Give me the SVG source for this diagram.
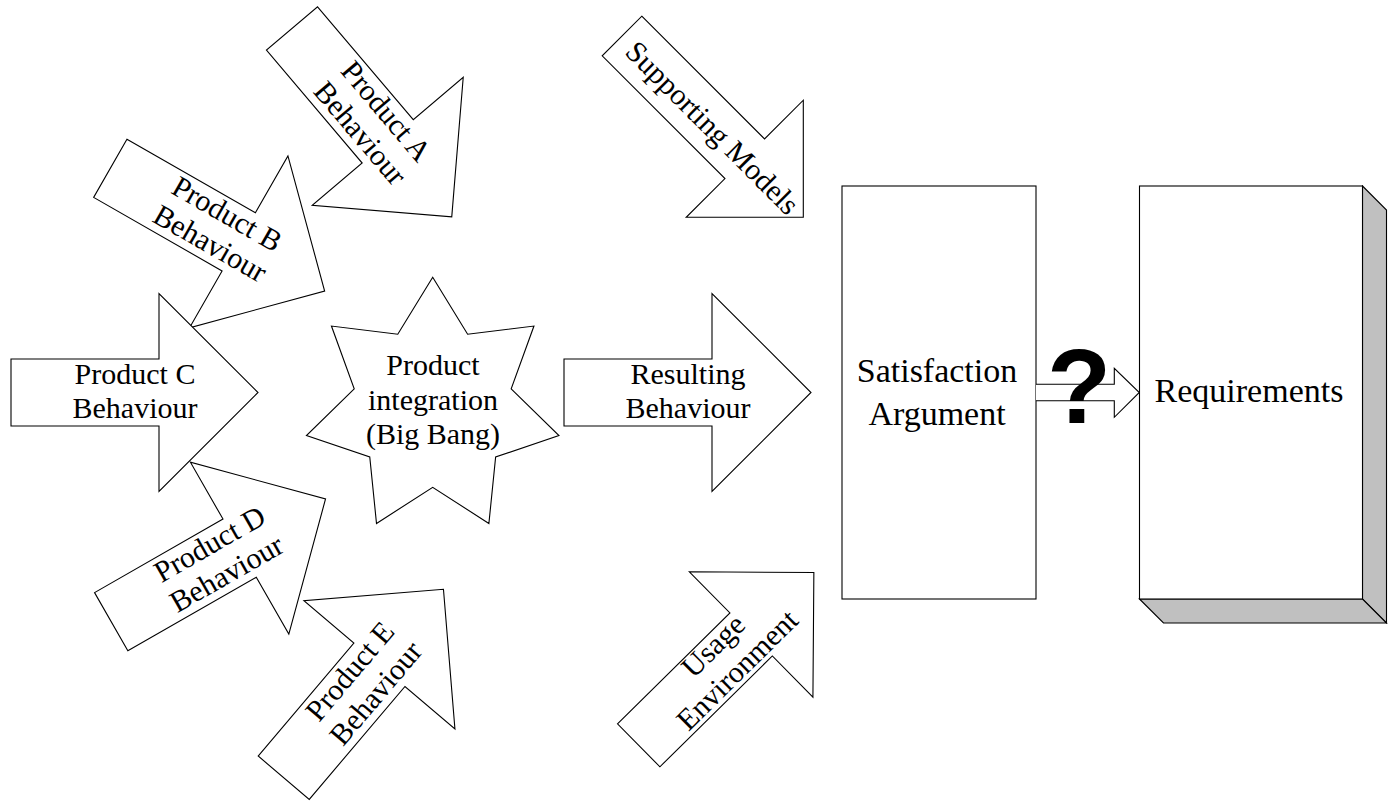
<svg xmlns="http://www.w3.org/2000/svg" width="1389" height="802" viewBox="0 0 1389 802" font-family="'Liberation Serif', 'Times New Roman', serif">
<style>
.sh{fill:#fff;stroke:#000;stroke-width:1.1;stroke-linejoin:miter}
.t{font-family:'Liberation Serif','Times New Roman',serif;font-size:30px;fill:#000;text-anchor:middle}
.tb{font-family:'Liberation Serif','Times New Roman',serif;font-size:34px;fill:#000;text-anchor:middle}
.side{fill:#c0c0c0;stroke:#000;stroke-width:1.1;stroke-linejoin:miter}
</style>
<defs>
<path id="arr" d="M0,-33.5 H148 V-99 L247,0 L148,99 V33.5 H0 Z"/>
</defs>
<rect width="1389" height="802" fill="#fff"/>

<g id="productA" transform="translate(292,28.5) rotate(49.7)">
<use href="#arr" class="sh"/>
<text class="t" x="124" y="-8.5">Product A</text>
<text class="t" x="124" y="25.5">Behaviour</text>
</g>

<g id="productB" transform="translate(110.3,168.3) rotate(29.8)">
<use href="#arr" class="sh"/>
<text class="t" x="124" y="-8.5">Product B</text>
<text class="t" x="124" y="25.5">Behaviour</text>
</g>

<g id="productC" transform="translate(11,392.5)">
<use href="#arr" class="sh"/>
<text class="t" x="124" y="-8.5">Product C</text>
<text class="t" x="124" y="25.5">Behaviour</text>
</g>

<g id="productD" transform="translate(111.2,621.7) rotate(-29.8)">
<use href="#arr" class="sh"/>
<text class="t" x="124" y="-8.5">Product D</text>
<text class="t" x="124" y="25.5">Behaviour</text>
</g>

<g id="productE" transform="translate(283.7,777.7) rotate(-49.7)">
<use href="#arr" class="sh"/>
<text class="t" x="124" y="-8.5">Product E</text>
<text class="t" x="124" y="25.5">Behaviour</text>
</g>

<g id="integration">
<polygon class="sh" points="432.7,277.3 467.63,334.27 533.95,326.06 511.18,388.89 558.95,435.62 495.64,456.99 488.89,523.48 432.7,487.3 376.51,523.48 369.76,456.99 306.45,435.62 354.22,388.89 331.45,326.06 397.77,334.27"/>
<text class="t" x="433" y="375">Product</text>
<text class="t" x="433" y="409.5">integration</text>
<text class="t" x="433" y="444">(Big Bang)</text>
</g>

<g id="resulting" transform="translate(564,392.5)">
<use href="#arr" class="sh"/>
<text class="t" x="124" y="-8.5">Resulting</text>
<text class="t" x="124" y="25.5">Behaviour</text>
</g>

<g id="supporting" transform="translate(622,36) rotate(45)">
<path class="sh" d="M0,-28 H173.6 V-82.8 L256.4,0 L173.6,82.8 V28 H0 Z"/>
<text class="t" x="129" y="11">Supporting Models</text>
</g>

<g id="usage" transform="translate(638.7,745.3) rotate(-44.6)">
<path class="sh" d="M0,-30.2 H157.9 V-88 L246,0 L157.9,88 V30.2 H0 Z"/>
<text class="t" x="123" y="-8.5">Usage</text>
<text class="t" x="123" y="25.5">Environment</text>
</g>

<g id="satisfaction">
<rect class="sh" x="842" y="186" width="194" height="413"/>
<text class="tb" x="937" y="382">Satisfaction</text>
<text class="tb" x="937" y="425">Argument</text>
</g>

<g id="requirements">
<polygon class="side" points="1362.5,186 1386.5,210 1386.5,623 1362.5,599"/>
<polygon class="side" points="1139.5,599 1163.5,623 1386.5,623 1362.5,599"/>
<rect class="sh" x="1139.5" y="186" width="223" height="413"/>
<text class="tb" x="1249" y="402">Requirements</text>
</g>

<g id="connectors">
<path class="sh" d="M1036,384.3 H1114.3 V368.3 L1139.3,392.5 L1114.3,417.3 V400.7 H1036"/>
<text x="1079" y="423" font-family="'Liberation Sans', Arial, sans-serif" font-weight="bold" font-size="105" text-anchor="middle" fill="#000">?</text>
</g>
</svg>
